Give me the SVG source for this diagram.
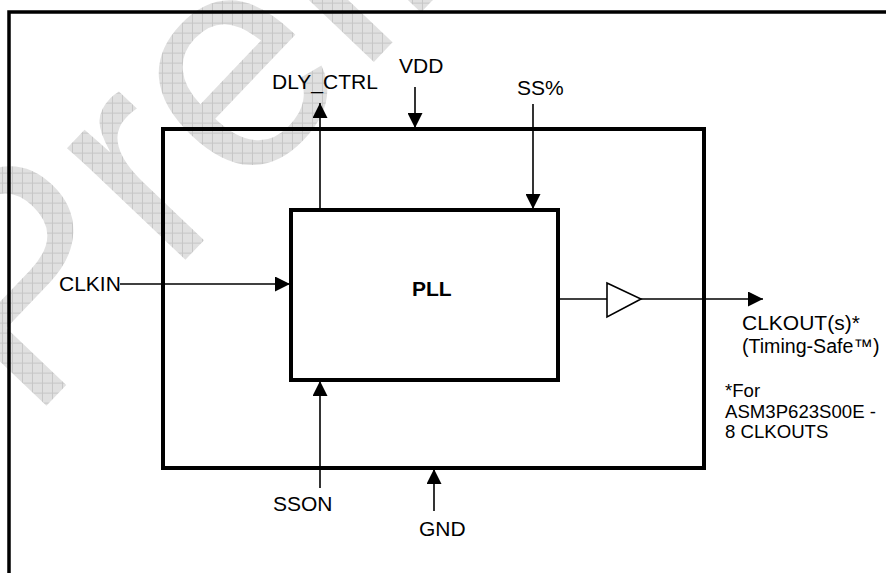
<svg xmlns="http://www.w3.org/2000/svg" width="886" height="573" viewBox="0 0 886 573">
  <style>
    .lbl { font-family: "Liberation Sans", Arial, sans-serif; font-size: 21px; fill: #000; }
    .note { font-family: "Liberation Sans", Arial, sans-serif; font-size: 18.6px; fill: #000; }
    .bold { font-weight: bold; }
    .box { fill: none; stroke: #000; stroke-width: 4; }
    .frame { fill: none; stroke: #000; stroke-width: 3.5; }
    .wire { fill: none; stroke: #000; stroke-width: 1.6; }
    .arrow { marker-end: url(#ah); }
    .wm { font-family: "Liberation Sans", Arial, sans-serif; font-size: 308px; fill: url(#grid); }
  </style>
  <defs>
    <marker id="ah" viewBox="0 0 15 15" refX="15" refY="7.5" markerWidth="15" markerHeight="15" markerUnits="userSpaceOnUse" orient="auto">
      <path d="M0,0 L15,7.5 L0,15 z" fill="#000"/>
    </marker>
    <pattern id="grid" width="10" height="10" patternUnits="userSpaceOnUse" patternTransform="rotate(46.4)">
      <rect width="10" height="10" fill="#e0e0e0"/>
      <path d="M0,0.5 H10 M0.5,0 V10" stroke="#c6c6c6" stroke-width="1" fill="none"/>
    </pattern>
  </defs>
  <rect width="886" height="573" fill="#fff"/>
  <g id="watermark">
    <text class="wm" x="29" y="424" transform="rotate(-46.4 29 424)">Preliminary</text>
  </g>
  <g id="frame">
    <rect class="frame" x="9" y="12" width="1000" height="1000"/>
  </g>
  <g id="chip">
    <rect class="box" x="163" y="129" width="541" height="339"/>
  </g>
  <g id="pll">
    <rect class="box" x="291" y="210" width="267" height="170"/>
    <text class="lbl bold" x="412" y="296">PLL</text>
  </g>
  <g id="buffer">
    <polygon points="607,283 641,299 607,317" fill="#fff" stroke="#000" stroke-width="1.6"/>
  </g>
  <g id="connectors">
    <line class="wire arrow" x1="320" y1="210" x2="320" y2="103"/>
    <line class="wire arrow" x1="415" y1="87" x2="415" y2="128"/>
    <line class="wire arrow" x1="533" y1="104" x2="533" y2="209"/>
    <line class="wire arrow" x1="120" y1="284" x2="290" y2="284"/>
    <line class="wire arrow" x1="320" y1="488" x2="320" y2="381"/>
    <line class="wire arrow" x1="434" y1="511" x2="434" y2="469"/>
    <line class="wire" x1="558" y1="299" x2="607" y2="299"/>
    <line class="wire arrow" x1="641" y1="299" x2="763" y2="299"/>
  </g>
  <g id="label-dly">
    <text class="lbl" x="272" y="89">DLY_CTRL</text>
  </g>
  <g id="label-vdd">
    <text class="lbl" x="399" y="73">VDD</text>
  </g>
  <g id="label-ss">
    <text class="lbl" x="517" y="95">SS%</text>
  </g>
  <g id="label-clkin">
    <text class="lbl" x="59" y="291">CLKIN</text>
  </g>
  <g id="label-sson">
    <text class="lbl" x="273" y="511">SSON</text>
  </g>
  <g id="label-gnd">
    <text class="lbl" x="419" y="536">GND</text>
  </g>
  <g id="label-clkout">
    <text class="lbl" x="742" y="330">CLKOUT(s)*</text>
    <text class="lbl" x="742" y="353" style="font-size:19.6px">(Timing-Safe™)</text>
  </g>
  <g id="note">
    <text class="note" x="725" y="397">*For</text>
    <text class="note" x="725" y="418">ASM3P623S00E -</text>
    <text class="note" x="725" y="438">8 CLKOUTS</text>
  </g>
</svg>
